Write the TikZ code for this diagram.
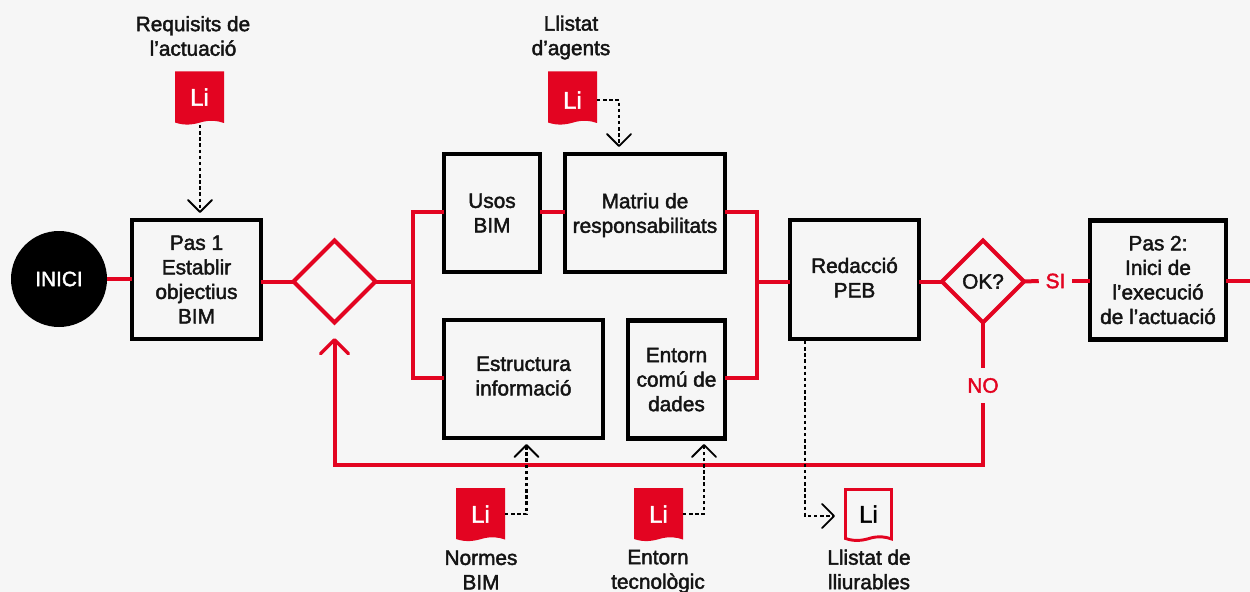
\documentclass[tikz,border=0pt]{standalone}
\usepackage{fontspec}
\setmainfont{Liberation Sans}[FakeBold=2]
\usetikzlibrary{shapes.geometric,arrows.meta,calc}
\definecolor{rd}{HTML}{E30421}
\definecolor{bg}{HTML}{F6F6F6}
\tikzset{
  lbl/.style={font=\fontsize{15.6}{18.4}\selectfont,align=center,inner sep=0pt,text=black!92},
  bx/.style 2 args={draw=black,line width=3.5pt,miter limit=10,fill=bg,lbl,minimum width=#1*0.75pt,minimum height=#2*0.75pt,outer sep=0pt},
  dia/.style={shape=diamond,draw=rd,line width=3pt,lbl,minimum width=82*0.75pt,minimum height=82*0.75pt,outer sep=0pt,fill=bg},
  redline/.style={draw=rd,line width=3pt},
  dashline/.style={draw=black,line width=1.6pt,dash pattern=on 2.6pt off 2pt},
  barb/.style={-{Straight Barb[length=9pt,width=18pt,line width=1.4pt,round=false]}},
  docn/.style={inner sep=0pt,minimum width=49*0.75pt,minimum height=52*0.75pt,outer sep=0pt,font=\fontsize{18}{20}\selectfont},
  redlbl/.style={lbl,text=rd,fill=none},
}
\newcommand{\wavedoc}{(0,0) -- (49,0) -- (49,51.5) .. controls (42,49) and (35,48.5) .. (27,50.5) .. controls (19,53) and (10,54.5) .. (0,51) -- cycle}
\begin{document}
\begin{tikzpicture}[x=0.75pt,y=-0.75pt]
\useasboundingbox[fill=bg] (0,0) rectangle (1250,592);
% nodes
\node[circle,fill=black,lbl,text=white,minimum size=96*0.75pt,outer sep=0pt] (inici) at (59,279) {INICI};
\node[bx={129}{119}] (pas1) at (196.5,279.5) {Pas 1\\Establir\\objectius\\BIM};
\node[dia] (d1) at (334.5,281.5) {};
\node[bx={96}{118}] (usos) at (492,213) {Usos\\BIM};
\node[bx={160}{118},text depth=0pt] (matriu) at (645,213) {Matriu de\\responsabilitats};
\node[bx={159}{118},text depth=4.5pt] (estr) at (523.5,379) {Estructura\\informació};
\node[bx={97}{118},text depth=0pt] (entorn) at (676.5,379.5) {Entorn\\comú de\\dades};
\node[bx={129}{119},text depth=3pt] (peb) at (854.5,279.5) {Redacció\\PEB};
\node[dia] (ok) at (983,281.5) {OK?};
\node[redlbl,minimum width=33*0.75pt] (si) at (1055.5,281) {SI};
\node[redlbl,minimum height=35*0.75pt] (no) at (983,385.5) {NO};
\node[bx={136}{119}] (pas2) at (1158,280) {Pas 2:\\Inici de\\l’execució\\de l’actuació};
\coordinate (bus) at (413,281.5);
\coordinate (busu) at (413,212);
\coordinate (busd) at (413,378);
\coordinate (col) at (757,282);
\coordinate (colu) at (757,212);
\coordinate (cold) at (757,378);
\coordinate (retr) at (983,465);
\coordinate (retl) at (334.5,465);
\coordinate (rett) at (334.5,338);
\coordinate (exit) at (1250,281);
% documents
\fill[rd,shift={(175,71.5)}] \wavedoc;
\node[docn,text=white] (li1) at (199.5,97) {Li};
\fill[rd,shift={(548,71.5)}] \wavedoc;
\node[docn,text=white] (li2) at (572.5,100) {Li};
\fill[rd,shift={(456,488)}] \wavedoc;
\node[docn,text=white] (li3) at (480.5,514) {Li};
\fill[rd,shift={(634,488)}] \wavedoc;
\node[docn,text=white] (li4) at (658.5,514) {Li};
\draw[rd,line width=2.2pt,miter limit=10,shift={(845.5,489.5)},xscale=46/49,yscale=0.96] \wavedoc;
\node[docn,text=black] (li5) at (868.5,514) {Li};
% labels
\node[lbl] (t1) at (193,36) {Requisits de\\l’actuació};
\node[lbl] (t2) at (571,37.5) {Llistat\\d’agents};
\node[lbl] (t3) at (481,570) {Normes\\BIM};
\node[lbl] (t4) at (658,571.5) {Entorn\\tecnològic};
\node[lbl] (t5) at (869,569.5) {Llistat de\\lliurables};
% coordinates for dashed
\coordinate (a1s) at (200,125);
\coordinate (a1e) at (200,213);
\coordinate (a2m) at (619,100);
\coordinate (a2e) at (619,147);
\coordinate (a3m) at (526.5,514);
\coordinate (a3e) at (526.5,444);
\coordinate (a4m) at (704,514);
\coordinate (a4e) at (704,444);
\coordinate (a5s) at (805,341);
\coordinate (a5m) at (805,516);
\coordinate (a5e) at (835,516);
% red connectors
\draw[redline] (inici.east) -- (inici.east -| pas1.west);
\draw[redline] (pas1.east |- d1.west) -- (d1.west);
\draw[redline] (d1.east) -- (bus);
\draw[redline] (usos.west |- busu) -- (busu) -- (busd) -- (estr.west |- busd);
\draw[redline] (usos.east |- busu) -- (matriu.west |- busu);
\draw[redline] (matriu.east |- colu) -- (colu) -- (cold) -- (entorn.east |- cold);
\draw[redline] (col) -- (peb.west |- col);
\draw[redline] (peb.east |- ok.west) -- (ok.west);
\draw[redline] (ok.east) -- (si.west);
\draw[redline] (si.east) -- (pas2.west |- si.east);
\draw[redline] (pas2.east |- exit) -- (exit);
\draw[redline] (ok.south) -- (no.north);
\draw[redline,-{Straight Barb[length=10.5pt,width=21pt,line width=2.6pt,round=false]}] (no.south) -- (retr) -- (retl) -- (rett);
% dashed connectors
\draw[dashline,barb] (a1s) -- (a1e);
\draw[dashline,barb] (li2.east) -- (a2m) -- (a2e);
\draw[dashline,barb] (li3.east) -- (a3m) -- (a3e);
\draw[dashline,barb] (li4.east) -- (a4m) -- (a4e);
\draw[dashline,barb] (a5s) -- (a5m) -- (a5e);
\end{tikzpicture}
\end{document}
